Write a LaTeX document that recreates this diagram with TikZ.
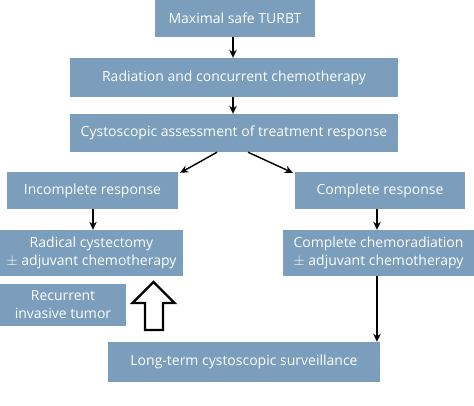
\documentclass[tikz,border=0pt]{standalone}
\usepackage{fontspec}
\setmainfont{Open Sans}
\usetikzlibrary{arrows.meta,calc}
\definecolor{boxblue}{HTML}{7A9EBB}
\tikzset{
  box/.style={fill=boxblue, text=white, inner sep=0pt, align=center, font=\fontsize{14}{18}\selectfont},
  conn/.style={line width=1.4pt, -{Stealth[length=8pt,width=7.5pt]}}
}
\begin{document}
\begin{tikzpicture}[x=1pt,y=-1pt]
\useasboundingbox (0,0) rectangle (474,405);
\node[box, minimum width=160pt, minimum height=37pt] (t) at (235,18.5) {Maximal safe TURBT};
\node[box, minimum width=328pt, minimum height=39pt] (r) at (234,77.5) {Radiation and concurrent chemotherapy};
\node[box, minimum width=328pt, minimum height=38pt] (c) at (234,133) {Cystoscopic assessment of treatment response};
\node[box, minimum width=171pt, minimum height=37pt] (inc) at (92.5,190.5) {Incomplete response};
\node[box, minimum width=170pt, minimum height=37pt] (com) at (380,190.5) {Complete response};
\node[box, minimum width=183pt, minimum height=46pt] (rc) at (91.5,253) {Radical cystectomy\\$\pm$ adjuvant chemotherapy};
\node[box, minimum width=191pt, minimum height=46pt] (cc) at (378.5,253) {Complete chemoradiation\\$\pm$ adjuvant chemotherapy};
\node[box, minimum width=126pt, minimum height=42pt] (rec) at (63,305) {Recurrent\\invasive tumor};
\node[box, minimum width=272pt, minimum height=40pt] (lt) at (244,362) {Long-term cystoscopic surveillance};

\draw[conn] ($(t.south)+(-2,0)$) -- ($(r.north)+(-1,0)$);
\draw[conn] ($(r.south)+(-1,0)$) -- ($(c.north)+(-1,0)$);
\draw[conn] ($(c.south)+(-17,0)$) -- ($(inc.north east)+(2,1)$);
\draw[conn] ($(c.south)+(14,0)$) -- ($(com.north west)+(-2,1)$);
\draw[conn] ($(inc.south)+(0.5,0)$) coordinate (is) -- (is |- rc.north);
\draw[conn] ($(com.south)+(-3,0)$) coordinate (cs) -- (cs |- cc.north);
\draw[conn] ($(cc.south)+(-1.5,0)$) coordinate (ccs) -- (ccs |- lt.north);
\draw[line width=2.4pt, line join=miter] (153.5,282) -- (174.5,303) -- (163,303) -- (163,330) -- (145,330) -- (145,303) -- (132.5,303) -- cycle;
\end{tikzpicture}
\end{document}
